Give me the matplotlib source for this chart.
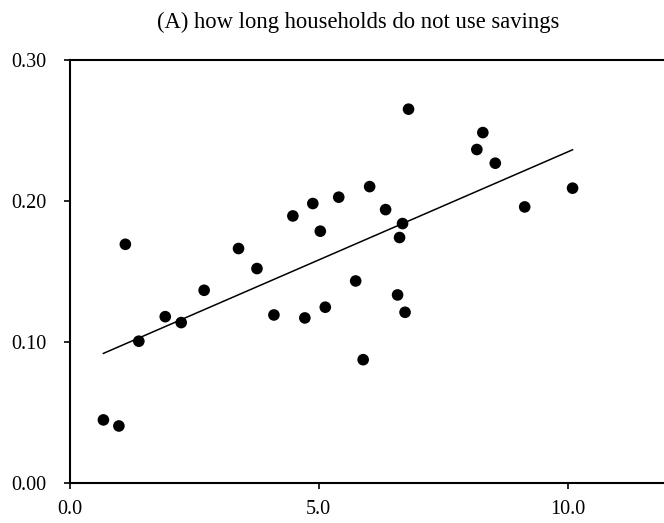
import numpy as np
import matplotlib
matplotlib.use("Agg")
import matplotlib.pyplot as plt

plt.rcParams['font.family'] = ['Liberation Serif', 'DejaVu Serif']

# values
x_vals = [0.68, 0.99, 1.12, 1.39, 1.92, 2.24, 2.70, 3.39, 3.76, 4.10,
          4.48, 4.72, 4.88, 5.03, 5.13, 5.40, 5.74, 5.89, 6.02, 6.34,
          6.58, 6.62, 6.68, 6.73, 6.80, 8.17, 8.29, 8.54, 9.13, 10.09]
y_vals = [0.0445, 0.0402, 0.169, 0.1003, 0.1177, 0.1135, 0.1364, 0.166, 0.1518, 0.1189,
          0.1891, 0.1168, 0.1979, 0.1783, 0.1244, 0.2024, 0.143, 0.0872, 0.2099, 0.1936,
          0.1331, 0.1738, 0.1837, 0.1208, 0.2648, 0.2362, 0.2482, 0.2265, 0.1955, 0.2088]
x_ticks = [0.0, 5.0, 10.0]
y_ticks = [0.00, 0.10, 0.20, 0.30]
title = "(A) how long households do not use savings"

x = np.array(x_vals)
y = np.array(y_vals)

fig = plt.figure(figsize=(6.64, 5.23), dpi=100)
ax = fig.add_axes([0.1047, 0.0771, 0.901, 0.8091])

ax.scatter(x, y, s=70, c='black', edgecolors='none', zorder=3)

# least squares line over the data range
b, a = np.polyfit(x, y, 1)
fx = np.array([x.min(), x.max()])
ax.plot(fx, a + b * fx, color='black', lw=1.1)

ax.set_xlim(0, 12)
ax.set_ylim(0, 0.30)
ax.set_xticks(x_ticks)
ax.set_xticklabels(["%.1f" % v for v in x_ticks])
ax.set_yticks(y_ticks)
ax.set_yticklabels(["%.2f" % v for v in y_ticks])
ax.spines['right'].set_visible(False)
for s in ['left', 'bottom', 'top']:
    ax.spines[s].set_linewidth(1.5)
ax.tick_params(axis='both', direction='out', length=4.5, width=1.2,
               labelsize=14.5, colors='black')
ax.tick_params(axis='y', pad=12)
ax.tick_params(axis='x', pad=8)

fig.text(0.54, 0.957, title, ha='center', va='center', fontsize=16.3)

fig.savefig("out.png", dpi=100)
